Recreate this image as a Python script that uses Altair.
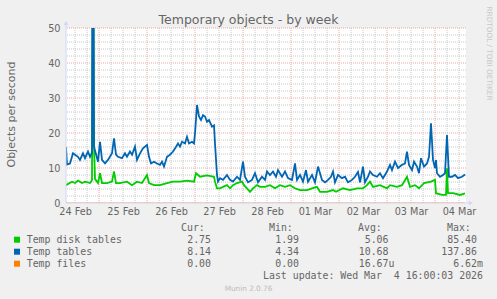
import json
import altair as alt
import pandas as pd

# ---------------- data (time in hours since 24 Feb 2026 00:00) ----------------
tables_h = [7.5, 8.0, 9.5, 11.0, 12.0, 13.5, 14.5, 16.0, 17.0, 18.5, 19.5, 20.5, 21.0, 21.5, 23.5,
            24.5, 25.5, 27.0, 28.5, 30.5, 31.5, 32.5, 33.5, 35.5, 37.0, 38.0, 39.5, 40.5, 42.0, 43.0,
            44.5, 46.0, 48.0, 49.0, 50.0, 51.5, 53.0, 54.5, 55.5, 56.5, 58.0, 59.5, 61.0, 62.0, 63.5,
            64.5, 65.5, 67.0, 68.0, 69.0, 70.5, 71.5, 72.0, 73.0, 74.0, 75.0, 76.0, 77.0, 78.0, 79.0,
            80.5, 81.5, 82.0, 83.0, 83.5, 84.5, 86.0, 88.0, 89.5, 91.0, 93.0, 94.5, 96.0, 97.0, 98.5,
            100.5, 102.0, 103.5, 105.5, 107.0, 108.0, 109.5, 111.0, 112.5, 113.5, 115.5, 117.0, 118.5,
            120.5, 122.0, 123.0, 124.5, 126.0, 127.5, 128.5, 130.5, 132.0, 133.5, 135.5, 137.0, 138.5,
            140.0, 141.0, 142.0, 143.5, 145.5, 147.0, 148.5, 150.5, 152.0, 153.5, 154.5, 156.0, 157.0,
            158.5, 159.5, 161.0, 163.0, 164.5, 166.0, 168.0, 169.5, 170.5, 172.0, 173.5, 175.5, 177.0,
            178.0, 179.0, 180.5, 181.5, 183.0, 184.0, 185.0, 186.5, 188.0, 189.0, 190.0, 191.0, 192.0,
            192.5, 193.0, 194.5, 196.0, 197.0, 198.0, 199.0, 200.5, 202.0, 203.5, 205.5, 207.0]
tables_v = [16.0, 11.0, 11.3, 14.2, 13.8, 13.2, 12.3, 14.2, 12.8, 14.7, 13.2, 14.5, 137.86, 16.1, 11.8,
            17.5, 12.3, 11.3, 12.3, 14.2, 18.5, 13.8, 13.2, 12.8, 14.2, 13.2, 14.7, 13.8, 16.1, 12.3,
            14.2, 15.6, 16.6, 13.2, 11.3, 11.8, 11.3, 10.9, 11.8, 10.4, 13.2, 13.8, 14.7, 15.6, 17.0,
            16.1, 17.5, 17.0, 18.9, 17.0, 17.5, 17.0, 19.9, 28.0, 24.7, 23.7, 25.1, 24.7, 23.2, 23.7,
            21.8, 22.2, 17.0, 8.0, 6.1, 7.1, 6.6, 8.0, 6.6, 6.1, 7.5, 6.6, 11.8, 7.5, 5.9,
            6.6, 8.5, 5.9, 7.5, 6.6, 9.0, 8.0, 9.0, 7.5, 9.4, 7.5, 9.0, 7.1,
            6.6, 11.3, 6.6, 8.0, 6.1, 9.4, 6.1, 8.0, 5.9, 10.4, 6.6, 5.9, 6.6,
            7.5, 9.0, 5.9, 8.0, 7.1, 7.5, 5.9, 6.6, 7.5, 8.9, 5.9, 10.4, 5.9,
            7.5, 9.0, 8.0, 7.5, 8.5, 7.1, 9.0, 10.9, 9.4, 11.8, 10.0, 10.9, 11.3,
            14.7, 10.9, 9.4, 11.8, 10.4, 8.5, 12.8, 10.4, 11.3, 13.2, 22.8, 12.3, 10.0,
            12.3, 8.5, 7.5, 8.0, 8.5, 19.4, 7.5, 7.5, 8.0, 7.1, 7.5, 8.14]

disk_h = [7.5, 10.5, 12.0, 13.5, 15.5, 17.0, 19.5, 20.5, 21.0, 21.5, 22.0, 23.5, 24.5, 25.5, 28.0, 30.5,
          31.5, 32.5, 34.5, 38.0, 40.5, 43.0, 45.5, 48.0, 49.0, 51.5, 54.5, 58.0, 61.0, 64.5, 68.0,
          71.5, 72.5, 74.5, 78.0, 81.5, 82.0, 83.0, 84.5, 86.0, 88.0, 89.5, 91.0, 93.0, 95.5, 96.5,
          98.0, 99.5, 101.0, 103.0, 104.5, 107.0, 109.5, 112.0, 114.5, 117.0, 119.5, 122.0, 124.5,
          128.0, 130.5, 133.0, 134.5, 138.0, 141.0, 142.5, 146.0, 149.5, 153.0, 156.0, 158.0, 159.5,
          161.0, 164.5, 168.0, 169.5, 173.0, 175.5, 178.0, 179.5, 182.0, 184.0, 186.5, 190.0, 192.0,
          192.5, 195.5, 197.5, 198.0, 198.5, 201.0, 204.5, 207.0]
disk_v = [5.1, 6.1, 5.7, 6.4, 5.7, 6.1, 5.7, 6.5, 85.4, 16.1, 6.9, 5.7, 8.5, 5.7, 5.7, 6.1,
          9.0, 5.7, 5.7, 6.1, 5.1, 6.1, 5.7, 8.0, 5.7, 5.1, 5.1, 5.7, 6.1, 6.1, 6.4,
          6.1, 8.5, 7.5, 7.9, 7.5, 6.1, 4.2, 4.2, 4.6, 5.1, 4.2, 5.1, 5.7, 6.1, 5.1,
          4.2, 3.2, 4.2, 5.1, 4.6, 4.6, 5.1, 4.2, 5.1, 4.6, 5.1, 4.2, 3.7,
          3.7, 4.2, 4.6, 3.2, 3.2, 3.7, 3.2, 4.2, 3.7, 4.2, 4.2, 5.1, 6.1,
          4.6, 5.1, 4.2, 5.1, 4.6, 5.1, 7.5, 4.6, 5.1, 4.2, 5.7, 6.1, 6.6,
          2.8, 2.3, 2.3, 9.9, 2.8, 2.8, 2.3, 2.75]

files_h = [7.5, 207.0]
files_v = [0.0, 0.0]

day_labels = ["24 Feb", "25 Feb", "26 Feb", "27 Feb", "28 Feb", "01 Mar", "02 Mar", "03 Mar", "04 Mar"]
y_ticks = [0, 10, 20, 30, 40, 50]

series_names = ["Temp disk tables", "Temp tables", "Temp files"]
series_colors = ["#00CC00", "#0066B3", "#FF8000"]
cur_vals = ["2.75", "8.14", "0.00"]
min_vals = ["1.99", "4.34", "0.00"]
avg_vals = ["5.06", "10.68", "16.67u"]
max_vals = ["85.40", "137.86", "6.62m"]

title_text = "Temporary objects - by week"
y_title = "Objects per second"
last_update = "Last update: Wed Mar\u00a0 4 16:00:03 2026"
footer = "Munin 2.0.76"
watermark = "RRDTOOL / TOBI OETIKER"

# ---------------- styling ----------------
W, H = 400, 175
FONT = "DejaVu Sans"
MONO = "DejaVu Sans Mono"
TXT = "#666666"
AXIS_C = "#CFD6F8"

X_SCALE = alt.Scale(domain=[7.5, 207.5], nice=False, zero=False)
Y_SCALE = alt.Scale(domain=[0, 50], nice=False, zero=True)

label_expr = json.dumps(day_labels) + "[round((datum.value - 12) / 24)]"
X_AXIS = alt.Axis(values=[12 + 24 * i for i in range(len(day_labels))], labelExpr=label_expr,
                  title=None, grid=False, ticks=False, domain=False, labelFont=FONT,
                  labelFontSize=9.7, labelColor=TXT, labelPadding=3, labelFlush=False,
                  labelOverlap=False)
Y_AXIS = alt.Axis(values=y_ticks, title=None, grid=False, ticks=False, domain=False,
                  labelFont=FONT, labelFontSize=9.7, labelColor=TXT, labelPadding=6)


def xenc(field):
    return alt.X(field, type="quantitative", scale=X_SCALE, axis=X_AXIS)


def yenc(field):
    return alt.Y(field, type="quantitative", scale=Y_SCALE, axis=Y_AXIS)


one = pd.DataFrame({"k": [0]})

# grid
vminor = pd.DataFrame({"h": [h for h in range(12, 208, 6) if h % 24 != 0]})
vmajor = pd.DataFrame({"h": list(range(24, 208, 24))})
hminor = pd.DataFrame({"v": [v for v in range(2, 50, 2) if v % 10 != 0]})
hmajor = pd.DataFrame({"v": list(range(10, 51, 10))})

MINOR_C = "#C8C8C8"
MAJOR_C = "#EBA8A8"
g1 = alt.Chart(vminor).mark_rule(color=MINOR_C, strokeDash=[1, 1], strokeWidth=1).encode(x=xenc("h"))
g2 = alt.Chart(hminor).mark_rule(color=MINOR_C, strokeDash=[1, 1], strokeWidth=1).encode(y=yenc("v"))
g3 = alt.Chart(vmajor).mark_rule(color=MAJOR_C, strokeDash=[1, 1], strokeWidth=1).encode(x=xenc("h"))
g4 = alt.Chart(hmajor).mark_rule(color=MAJOR_C, strokeDash=[1, 1], strokeWidth=1).encode(y=yenc("v"))


def series_line(hours, vals, color, width=1.8, opacity=1.0):
    d = pd.DataFrame({"h": hours, "v": vals})
    return alt.Chart(d).mark_line(color=color, strokeWidth=width, clip=True, opacity=opacity,
                                  interpolate="linear").encode(x=xenc("h"), y=yenc("v"))


l_disk = series_line(disk_h, disk_v, series_colors[0])
l_tables = series_line(tables_h, tables_v, series_colors[1])
l_files = series_line(files_h, files_v, series_colors[2], width=1.2, opacity=0.5)

# axis lines and arrows
ax_y = alt.Chart(one).mark_rule(color=AXIS_C, strokeWidth=1).encode(
    x=alt.value(0), y=alt.value(-5), y2=alt.value(H))
ax_x = alt.Chart(one).mark_rule(color=AXIS_C, strokeWidth=1).encode(
    x=alt.value(0), x2=alt.value(W + 5), y=alt.value(H))
arr_y = alt.Chart(one).mark_point(shape="triangle-up", filled=True, size=22, color=AXIS_C, opacity=1).encode(
    x=alt.value(0), y=alt.value(-5))
arr_x = alt.Chart(one).mark_point(shape="triangle-right", filled=True, size=22, color=AXIS_C, opacity=1).encode(
    x=alt.value(W + 5), y=alt.value(H))


def txt(text, x, y, size=9.9, font=MONO, color=TXT, align="left", baseline="alphabetic", angle=0):
    return alt.Chart(pd.DataFrame({"t": [text]})).mark_text(
        align=align, baseline=baseline, font=font, fontSize=size, color=color, angle=angle
    ).encode(x=alt.value(x), y=alt.value(y), text="t:N")


texts = [
    txt(title_text, 182.5, -4.5, size=12.5, font=FONT, align="center"),
    txt(y_title, -54, 86.5, size=11, font=FONT, align="center", baseline="middle", angle=270),
    txt(watermark, 422.5, 25.5, size=7.3, font=FONT, color="#C8C8C8", align="center",
        baseline="middle", angle=90),
    txt(footer, 182.5, 262.7, size=7.3, font=FONT, color="#BBBBBB", align="center"),
    txt(last_update, 417, 250.9, align="right"),
]

# legend header
for lab, lx in zip(["Cur:", "Min:", "Avg:", "Max:"], [115, 203, 292, 381]):
    texts.append(txt(lab, lx, 202.7))

col_right = [145, 233, 322.5, 411]
CH = 5.96
for i, name in enumerate(series_names):
    by = 214.7 + 12 * i
    texts.append(alt.Chart(one).mark_rect(color=series_colors[i]).encode(
        x=alt.value(-52), x2=alt.value(-46), y=alt.value(by - 6), y2=alt.value(by)))
    texts.append(txt(name, -39.3, by))
    for cr, col in zip(col_right, [cur_vals, min_vals, avg_vals, max_vals]):
        s = col[i]
        suffix = 1 if s[-1].isalpha() else 0
        texts.append(txt(s, cr + CH * suffix, by, align="right"))

chart = alt.layer(
    g1, g2, g3, g4, l_disk, l_tables, ax_y, ax_x, l_files, arr_y, arr_x, *texts
).properties(
    width=W, height=H,
    autosize=alt.AutoSizeParams(type="none"),
    padding={"left": 66, "top": 28, "right": 31, "bottom": 96},
    background="#F0F0F0",
).configure_view(fill="#FFFFFF", stroke=None)

chart.save("out.html", embed_options={"renderer": "svg", "actions": False})
